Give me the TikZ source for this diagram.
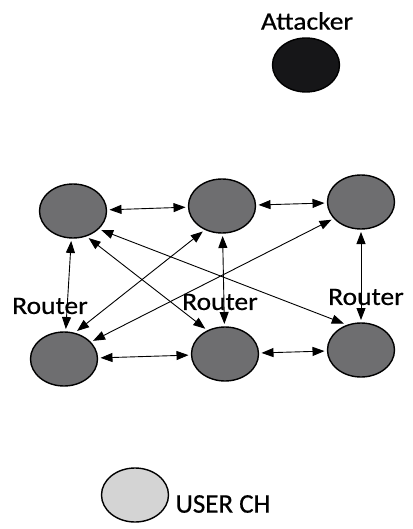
\documentclass[tikz,border=0pt]{standalone}
\usepackage{fontspec}
\setmainfont{Carlito}[FakeBold=0.6]
\usetikzlibrary{arrows.meta,shapes.geometric}
\definecolor{routergray}{RGB}{110,110,112}
\definecolor{attackerblack}{RGB}{22,22,24}
\definecolor{userlight}{RGB}{212,212,212}
\begin{document}
\begin{tikzpicture}[x=1pt,y=-1pt,
  host/.style={ellipse,draw=black,line width=1.4pt,minimum width=67pt,minimum height=54pt,inner sep=0pt,outer sep=3pt},
  router/.style={host,fill=routergray},
  link/.style={draw=black,line width=0.9pt,{Triangle[length=12pt,width=9pt]}-{Triangle[length=12pt,width=9pt]}},
  lbl/.style={font=\fontsize{25}{28}\selectfont,inner sep=0pt}]
\useasboundingbox (0,0) rectangle (412,529);

% routers
\node[router] (tl) at (73,211) {};
\node[router] (tm) at (222,206) {};
\node[router] (tr) at (361,202) {};
\node[router] (bl) at (64,359) {};
\node[router] (bm) at (225,354) {};
\node[router] (br) at (361,350) {};

% attacker and user cluster head
\node[host,fill=attackerblack] (att) at (306,65) {};
\node[lbl,xscale=1.1] (attlbl) at (307,21) {Attacker};
\node[host,fill=userlight] (user) at (135,495) {};
\node[lbl,font=\fontsize{27}{30}\selectfont] (userlbl) at (223,504) {USER CH};

% links between routers
\draw[link] (tl) -- (tm);
\draw[link] (tm) -- (tr);
\draw[link] (bl) -- (bm);
\draw[link] (bm) -- (br);
\draw[link] (tl) -- (bl);
\draw[link] (tm) -- (bm);
\draw[link] (tr) -- (br);
\draw[link] (tl.-60) -- (bm.128);
\draw[link] (tl.-34) -- (br.123);
\draw[link] (tm.-127) -- (bl.65);
\draw[link] (tr.211) -- (bl.32);

% router labels
\node[lbl,xscale=1.1] (r1) at (50,306) {Router};
\node[lbl,xscale=1.1] (r2) at (220,302) {Router};
\node[lbl,xscale=1.1] (r3) at (366,297) {Router};
\end{tikzpicture}
\end{document}
